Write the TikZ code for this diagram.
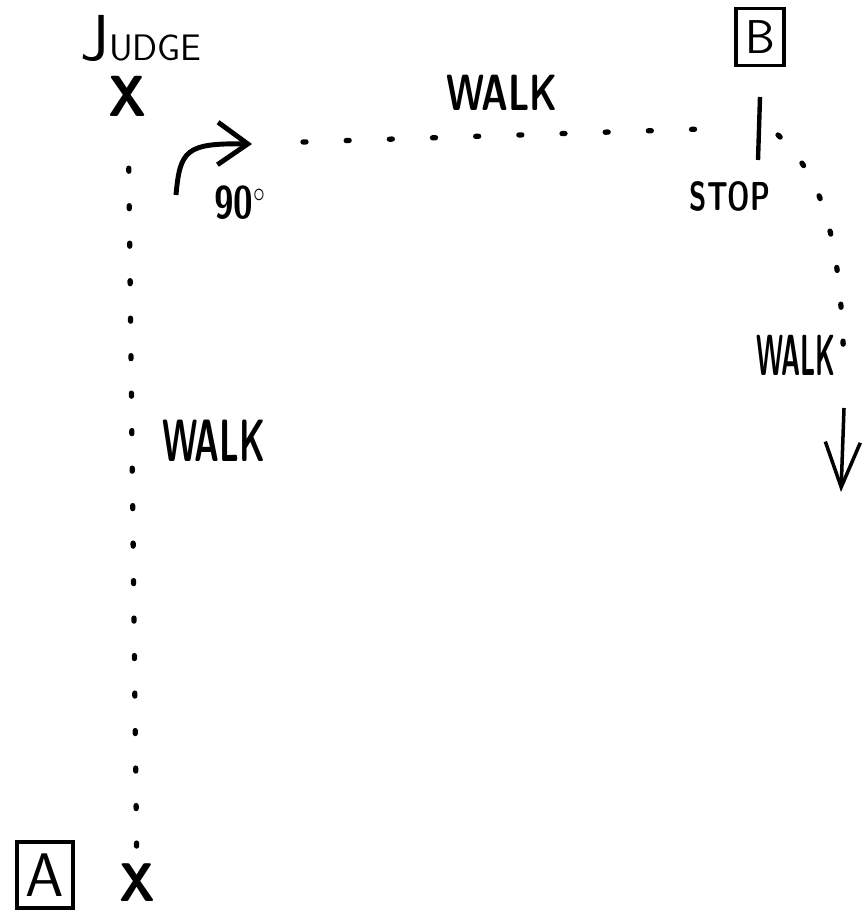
\documentclass[tikz,border=0pt]{standalone}
\usetikzlibrary{arrows.meta}

\tikzset{
  hand/.style={font=\sffamily\bfseries},
  crossmark/.style={inner sep=1pt, xscale=0.9},
  walkdots/.style={line width=3pt, line cap=round},
  letterbox/.style={draw, line width=1.8pt, inner sep=0pt}
}

\begin{document}
\begin{tikzpicture}[x=0.02cm, y=-0.02cm]
\useasboundingbox (0,0) rectangle (865,911);

\node[hand, anchor=base west, font=\sffamily\fontsize{37}{37}\selectfont] (judge) at (74,61) {J\fontsize{21}{21}\selectfont UDGE};
\node[crossmark, font=\sffamily\bfseries\fontsize{33}{33}\selectfont] (jx) at (128,96) {X};
\node[crossmark, font=\sffamily\bfseries\fontsize{31}{31}\selectfont] (ax) at (137,883) {X};
\node[letterbox, minimum width=1.12cm, minimum height=1.32cm, font=\sffamily\fontsize{35}{35}\selectfont] (a) at (45,875) {A};
\node[letterbox, minimum width=0.96cm, minimum height=1.14cm, font=\sffamily\fontsize{27}{27}\selectfont] (b) at (760,37) {B};

\node[hand, xscale=0.72, font=\sffamily\bfseries\fontsize{29}{29}\selectfont] (walktop) at (502,93) {WALK};
\node[hand, xscale=0.57, font=\sffamily\bfseries\fontsize{34}{34}\selectfont] (walkleft) at (214,441) {WALK};
\node[hand, xscale=0.45, font=\sffamily\bfseries\fontsize{33}{33}\selectfont] (walkright) at (796,355) {WALK};
\node[hand, xscale=0.7, font=\sffamily\bfseries\fontsize{23}{23}\selectfont] (stop) at (730,196) {STOP};
\node[hand, xscale=0.78, font=\sffamily\bfseries\fontsize{26}{26}\selectfont] (deg) at (240,203) {90$^\circ$};

\coordinate (t0) at (303,142);
\coordinate (t1) at (734,128);
\coordinate (r0) at (778,135);
\coordinate (r1) at (844,378);
\coordinate (bar0) at (760,97);
\coordinate (bar1) at (758,160);
\coordinate (turn0) at (176,195);
\coordinate (turn1) at (252,144);
\coordinate (down0) at (844,408);
\coordinate (down1) at (841,492);

% dotted walks
\draw[walkdots, dash pattern=on 0.06cm off 0.69cm, shorten <=1cm, shorten >=0.3cm] (jx) -- (ax);
\draw[walkdots, dash pattern=on 0.06cm off 0.804cm] (t0) -- (t1);
\draw[walkdots, dash pattern=on 0.06cm off 0.68cm] (r0) .. controls (820,175) and (842,230) .. (r1);

\draw[line width=2.5pt] (bar0) -- (bar1);
\draw[line width=2.8pt, -{Straight Barb[length=0.6cm, width=0.85cm]}] (turn0) .. controls (180,150) and (186,143) .. (turn1);
\draw[line width=2pt, -{Straight Barb[length=0.9cm, width=0.7cm]}] (down0) -- (down1);
\end{tikzpicture}
\end{document}
